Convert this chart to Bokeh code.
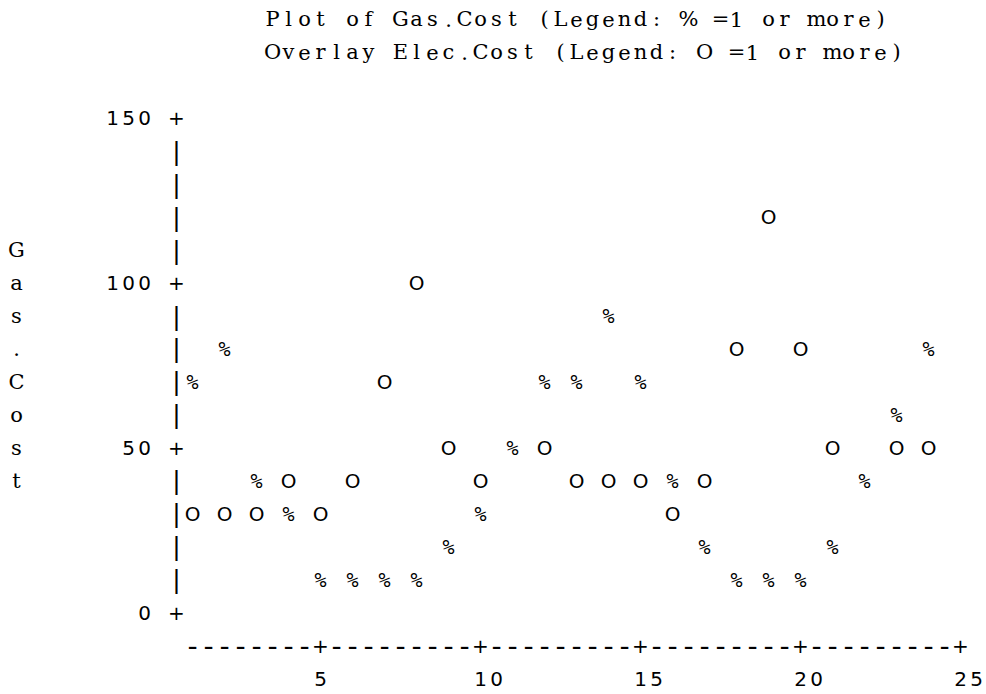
from bokeh.plotting import figure
from bokeh.models import ColumnDataSource, Range1d
from bokeh.core.properties import value
from bokeh.embed import file_html
from bokeh.resources import INLINE

# ---- data ----
obs = list(range(1, 25))
gas_cost = [70, 80, 40, 30, 10, 10, 10, 10, 20, 30, 50, 70,
            70, 90, 70, 40, 20, 10, 10, 10, 20, 40, 60, 80]
elec_cost = [30, 30, 30, 40, 30, 40, 70, 100, 50, 40, 50, 50,
             40, 40, 40, 30, 40, 80, 120, 80, 50, 40, 50, 50]
y_ticks = [0, 50, 100, 150]
y_tick_labels = ["0", "50", "100", "150"]
x_ticks = [5, 10, 15, 20, 25]
x_tick_labels = ["5", "10", "15", "20", "25"]
title_lines = ["Plot of Gas.Cost (Legend: % =1 or more)",
               "Overlay Elec.Cost (Legend: O =1 or more)"]
y_label = "Gas.Cost"
gas_symbol = "%"
elec_symbol = "O"

# ---- printer grid ----
COL = 0.5    # x units per printer column
ROW = 10     # y units per printer line
x0 = 1       # first column of the plot area
y_top = 150
x_end = 25

p = figure(width=986, height=694, output_backend="svg", toolbar_location=None,
           x_axis_location=None, y_axis_location=None, min_border=0,
           x_range=Range1d(x0 - 12 * COL, x0 + 49.625 * COL),
           y_range=Range1d(-2.485 * ROW, 18.576 * ROW))
p.grid.visible = False
p.outline_line_color = None
p.background_fill_color = "white"

groups = {}

def put(ch, x, y, key):
    if ch == " ":
        return
    g = groups.setdefault(key, {"x": [], "y": [], "t": []})
    g["x"].append(x)
    g["y"].append(y)
    g["t"].append(ch)

SERIF = ("DejaVu Serif", "21px")

def key_for(ch):
    if ch == "%":
        return ("DejaVu Sans Mono", "20px")
    if ch == "|":
        return ("DejaVu Sans", "25px")
    if ch == "-":
        return ("Liberation Mono", "27px")
    return ("DejaVu Sans", "20px")

# titles
for i, line in enumerate(title_lines):
    yy = y_top + (3 - i) * ROW
    for k, ch in enumerate(line):
        put(ch, x0 + (5 + k) * COL, yy, SERIF)

# vertical label
for k, ch in enumerate(y_label):
    put(ch, x0 - 11 * COL, 110 - k * ROW, SERIF)

# vertical axis
ax_x = x0 - COL
for v in range(0, y_top + ROW, ROW):
    ch = "+" if v in y_ticks else "|"
    put(ch, ax_x, v, key_for(ch))
for v, lab in zip(y_ticks, y_tick_labels):
    n = len(lab)
    for i, ch in enumerate(lab):
        put(ch, x0 - (3 + n - 1 - i) * COL, v, key_for(ch))

# horizontal axis
ncols = int(round((x_end - x0) / COL))
for c in range(ncols + 1):
    xx = x0 + c * COL
    ch = "+" if xx in x_ticks else "-"
    put(ch, xx, -ROW, key_for(ch))
for t, lab in zip(x_ticks, x_tick_labels):
    for i, ch in enumerate(lab):
        put(ch, t + i * COL, -2 * ROW, key_for(ch))

# data: gas first, elec overlay (hidden where it coincides)
for xv, g in zip(obs, gas_cost):
    put(gas_symbol, xv, g, key_for(gas_symbol))
for xv, e, g in zip(obs, elec_cost, gas_cost):
    if e != g:
        put(elec_symbol, xv, e, key_for(elec_symbol))

for (font, size), d in groups.items():
    src = ColumnDataSource(d)
    p.text(x="x", y="y", text="t", source=src, text_font=value(font),
           text_font_size=value(size), text_align="center",
           text_baseline="middle", text_color="black")

open("out.html", "w").write(file_html(p, INLINE))
